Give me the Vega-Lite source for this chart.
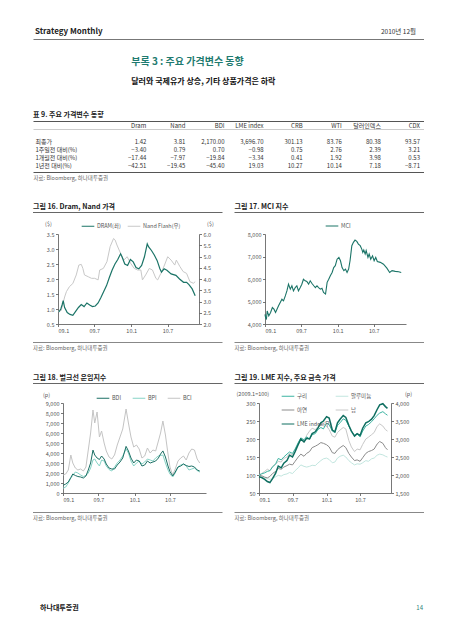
{
"$schema": "https://vega.github.io/schema/vega-lite/v6.json",
"padding": {"left": 30, "top": 25, "right": 0, "bottom": 0},
"background": "white",
"bounds": "flush",
"spacing": 0,
"resolve": {"scale": {"color": "independent"}, "legend": {"color": "independent"}},
"config": {
 "font": "Noto Sans CJK KR",
 "view": {"stroke": null},
 "axis": {"labelFont": "Noto Sans CJK KR", "titleFont": "Noto Sans CJK KR", "labelFontSize": 5.5, "labelColor": "#555555", "domainColor": "#555555", "domainWidth": 0.8, "tickColor": "#555555", "tickWidth": 0.8, "tickSize": 2.5, "labelPadding": 1.5, "grid": false, "titleFontSize": 5.5, "titleFontWeight": "normal", "titleColor": "#555555"},
 "legend": {"labelFont": "Noto Sans CJK KR", "labelFontSize": 5.5, "labelColor": "#555555", "symbolType": "stroke", "symbolStrokeWidth": 1.5, "symbolSize": 160, "padding": 0, "labelOffset": 2, "columnPadding": 4, "rowPadding": 3, "direction": "horizontal", "orient": "none", "title": null},
 "title": {"font": "Noto Sans CJK KR", "subtitleFont": "Noto Sans CJK KR"},
 "text": {"font": "Noto Sans CJK KR"},
 "line": {"strokeWidth": 1}
},
"datasets": {
 "tbl": [
  {"r": "최종가", "c": "Dram", "v": 1.42}, {"r": "최종가", "c": "Nand", "v": 3.81}, {"r": "최종가", "c": "BDI", "v": 2170.00}, {"r": "최종가", "c": "LME index", "v": 3696.70}, {"r": "최종가", "c": "CRB", "v": 301.13}, {"r": "최종가", "c": "WTI", "v": 83.76}, {"r": "최종가", "c": "달러인덱스", "v": 80.38}, {"r": "최종가", "c": "CDX", "v": 93.57},
  {"r": "1주일전 대비(%)", "c": "Dram", "v": -3.40}, {"r": "1주일전 대비(%)", "c": "Nand", "v": 0.79}, {"r": "1주일전 대비(%)", "c": "BDI", "v": 0.70}, {"r": "1주일전 대비(%)", "c": "LME index", "v": -0.98}, {"r": "1주일전 대비(%)", "c": "CRB", "v": 0.75}, {"r": "1주일전 대비(%)", "c": "WTI", "v": 2.76}, {"r": "1주일전 대비(%)", "c": "달러인덱스", "v": 2.39}, {"r": "1주일전 대비(%)", "c": "CDX", "v": 3.21},
  {"r": "1개월전 대비(%)", "c": "Dram", "v": -17.44}, {"r": "1개월전 대비(%)", "c": "Nand", "v": -7.97}, {"r": "1개월전 대비(%)", "c": "BDI", "v": -19.84}, {"r": "1개월전 대비(%)", "c": "LME index", "v": -3.34}, {"r": "1개월전 대비(%)", "c": "CRB", "v": 0.41}, {"r": "1개월전 대비(%)", "c": "WTI", "v": 1.92}, {"r": "1개월전 대비(%)", "c": "달러인덱스", "v": 3.98}, {"r": "1개월전 대비(%)", "c": "CDX", "v": 0.53},
  {"r": "1년전 대비(%)", "c": "Dram", "v": -42.51}, {"r": "1년전 대비(%)", "c": "Nand", "v": -19.45}, {"r": "1년전 대비(%)", "c": "BDI", "v": -45.40}, {"r": "1년전 대비(%)", "c": "LME index", "v": 19.03}, {"r": "1년전 대비(%)", "c": "CRB", "v": 10.27}, {"r": "1년전 대비(%)", "c": "WTI", "v": 10.14}, {"r": "1년전 대비(%)", "c": "달러인덱스", "v": 7.18}, {"r": "1년전 대비(%)", "c": "CDX", "v": -8.71}
 ],
 "dram": [
  {"d": "2009-01-05", "v": 0.90}, {"d": "2009-01-15", "v": 1.00}, {"d": "2009-01-22", "v": 1.15}, {"d": "2009-01-27", "v": 1.28}, {"d": "2009-02-03", "v": 1.05}, {"d": "2009-02-16", "v": 0.88}, {"d": "2009-03-02", "v": 0.82}, {"d": "2009-03-16", "v": 0.79}, {"d": "2009-03-30", "v": 0.92}, {"d": "2009-04-13", "v": 1.05}, {"d": "2009-04-27", "v": 1.15}, {"d": "2009-05-11", "v": 1.08}, {"d": "2009-05-25", "v": 1.20}, {"d": "2009-06-08", "v": 1.13}, {"d": "2009-06-22", "v": 1.08}, {"d": "2009-07-06", "v": 1.10}, {"d": "2009-07-20", "v": 1.20}, {"d": "2009-08-03", "v": 1.38}, {"d": "2009-08-17", "v": 1.58}, {"d": "2009-08-31", "v": 1.78}, {"d": "2009-09-14", "v": 2.05}, {"d": "2009-09-28", "v": 2.30}, {"d": "2009-10-12", "v": 2.50}, {"d": "2009-10-26", "v": 2.65}, {"d": "2009-11-09", "v": 2.84}, {"d": "2009-11-16", "v": 2.74}, {"d": "2009-11-30", "v": 2.50}, {"d": "2009-12-14", "v": 2.45}, {"d": "2009-12-28", "v": 2.65}, {"d": "2010-01-11", "v": 2.57}, {"d": "2010-01-25", "v": 2.38}, {"d": "2010-02-08", "v": 2.34}, {"d": "2010-02-22", "v": 2.45}, {"d": "2010-03-08", "v": 2.74}, {"d": "2010-03-22", "v": 3.17}, {"d": "2010-03-29", "v": 3.07}, {"d": "2010-04-12", "v": 2.95}, {"d": "2010-04-26", "v": 2.80}, {"d": "2010-05-10", "v": 2.62}, {"d": "2010-05-24", "v": 2.34}, {"d": "2010-06-01", "v": 2.23}, {"d": "2010-06-14", "v": 2.34}, {"d": "2010-06-28", "v": 2.29}, {"d": "2010-07-19", "v": 2.17}, {"d": "2010-08-12", "v": 2.12}, {"d": "2010-08-30", "v": 2.00}, {"d": "2010-09-19", "v": 1.89}, {"d": "2010-10-04", "v": 1.89}, {"d": "2010-10-16", "v": 1.81}, {"d": "2010-11-01", "v": 1.67}, {"d": "2010-11-16", "v": 1.44}
 ],
 "nand": [
  {"d": "2009-01-01", "v": 2.55}, {"d": "2009-01-17", "v": 2.60}, {"d": "2009-02-03", "v": 3.20}, {"d": "2009-02-12", "v": 3.44}, {"d": "2009-02-27", "v": 3.66}, {"d": "2009-03-16", "v": 3.80}, {"d": "2009-04-02", "v": 4.18}, {"d": "2009-04-15", "v": 4.62}, {"d": "2009-04-27", "v": 4.65}, {"d": "2009-05-05", "v": 4.47}, {"d": "2009-05-13", "v": 4.18}, {"d": "2009-06-01", "v": 4.10}, {"d": "2009-06-17", "v": 4.03}, {"d": "2009-07-03", "v": 4.03}, {"d": "2009-07-20", "v": 3.96}, {"d": "2009-07-28", "v": 4.40}, {"d": "2009-08-15", "v": 4.47}, {"d": "2009-09-02", "v": 4.77}, {"d": "2009-09-18", "v": 5.44}, {"d": "2009-10-05", "v": 5.80}, {"d": "2009-10-13", "v": 5.73}, {"d": "2009-10-22", "v": 5.51}, {"d": "2009-11-09", "v": 5.14}, {"d": "2009-11-25", "v": 4.84}, {"d": "2009-12-12", "v": 4.99}, {"d": "2009-12-29", "v": 4.70}, {"d": "2010-01-16", "v": 4.47}, {"d": "2010-02-02", "v": 4.40}, {"d": "2010-02-18", "v": 4.40}, {"d": "2010-02-26", "v": 3.96}, {"d": "2010-03-14", "v": 4.18}, {"d": "2010-04-01", "v": 4.47}, {"d": "2010-04-17", "v": 4.40}, {"d": "2010-05-04", "v": 4.03}, {"d": "2010-05-13", "v": 3.96}, {"d": "2010-05-29", "v": 4.25}, {"d": "2010-06-16", "v": 4.62}, {"d": "2010-07-02", "v": 4.99}, {"d": "2010-07-19", "v": 4.84}, {"d": "2010-08-06", "v": 4.62}, {"d": "2010-08-14", "v": 4.84}, {"d": "2010-09-01", "v": 4.55}, {"d": "2010-09-17", "v": 4.33}, {"d": "2010-10-04", "v": 4.25}, {"d": "2010-10-21", "v": 3.88}, {"d": "2010-11-07", "v": 3.81}, {"d": "2010-11-16", "v": 3.88}
 ],
 "mci": [
  {"d": "2009-01-01", "v": 4430}, {"d": "2009-01-04", "v": 4290}, {"d": "2009-01-08", "v": 4200}, {"d": "2009-01-12", "v": 4580}, {"d": "2009-01-20", "v": 4360}, {"d": "2009-01-29", "v": 4510}, {"d": "2009-02-07", "v": 4730}, {"d": "2009-02-15", "v": 4660}, {"d": "2009-02-23", "v": 4510}, {"d": "2009-03-10", "v": 4810}, {"d": "2009-03-23", "v": 5030}, {"d": "2009-03-27", "v": 5100}, {"d": "2009-04-04", "v": 5030}, {"d": "2009-04-13", "v": 5250}, {"d": "2009-04-21", "v": 5470}, {"d": "2009-04-29", "v": 5770}, {"d": "2009-05-08", "v": 5550}, {"d": "2009-05-16", "v": 5700}, {"d": "2009-05-24", "v": 5470}, {"d": "2009-06-02", "v": 5620}, {"d": "2009-06-10", "v": 5700}, {"d": "2009-06-18", "v": 5470}, {"d": "2009-06-27", "v": 5620}, {"d": "2009-07-05", "v": 5770}, {"d": "2009-07-13", "v": 5990}, {"d": "2009-07-22", "v": 5920}, {"d": "2009-07-30", "v": 5890}, {"d": "2009-08-08", "v": 5770}, {"d": "2009-08-16", "v": 5920}, {"d": "2009-08-25", "v": 5800}, {"d": "2009-09-03", "v": 5700}, {"d": "2009-09-11", "v": 5620}, {"d": "2009-09-19", "v": 5700}, {"d": "2009-09-27", "v": 5620}, {"d": "2009-10-06", "v": 5550}, {"d": "2009-10-14", "v": 5590}, {"d": "2009-10-22", "v": 5400}, {"d": "2009-11-01", "v": 5330}, {"d": "2009-11-09", "v": 5850}, {"d": "2009-11-17", "v": 5990}, {"d": "2009-11-25", "v": 6140}, {"d": "2009-12-04", "v": 6290}, {"d": "2009-12-12", "v": 6510}, {"d": "2009-12-20", "v": 6590}, {"d": "2009-12-29", "v": 6880}, {"d": "2010-01-07", "v": 6960}, {"d": "2010-01-15", "v": 6810}, {"d": "2010-01-23", "v": 6510}, {"d": "2010-02-01", "v": 6370}, {"d": "2010-02-09", "v": 6440}, {"d": "2010-02-17", "v": 6290}, {"d": "2010-02-25", "v": 6440}, {"d": "2010-03-04", "v": 6810}, {"d": "2010-03-13", "v": 7480}, {"d": "2010-03-21", "v": 7630}, {"d": "2010-03-29", "v": 7730}, {"d": "2010-04-07", "v": 7670}, {"d": "2010-04-15", "v": 7550}, {"d": "2010-04-24", "v": 7480}, {"d": "2010-05-02", "v": 7330}, {"d": "2010-05-07", "v": 7180}, {"d": "2010-05-12", "v": 7290}, {"d": "2010-05-19", "v": 7110}, {"d": "2010-05-24", "v": 7260}, {"d": "2010-06-02", "v": 6960}, {"d": "2010-06-08", "v": 7110}, {"d": "2010-06-16", "v": 6880}, {"d": "2010-06-25", "v": 7030}, {"d": "2010-07-03", "v": 6810}, {"d": "2010-07-11", "v": 6960}, {"d": "2010-07-19", "v": 6780}, {"d": "2010-08-03", "v": 6740}, {"d": "2010-08-19", "v": 6660}, {"d": "2010-09-05", "v": 6480}, {"d": "2010-09-19", "v": 6290}, {"d": "2010-10-01", "v": 6370}, {"d": "2010-10-17", "v": 6340}, {"d": "2010-11-03", "v": 6320}, {"d": "2010-11-16", "v": 6290}
 ],
 "bulk": [
  {"d": "2009-01-02", "BDI": 774, "BPI": 480, "BCI": 1800}, {"d": "2009-01-15", "BDI": 900, "BPI": 600, "BCI": 1900}, {"d": "2009-01-28", "BDI": 1100, "BPI": 1000, "BCI": 2300}, {"d": "2009-02-10", "BDI": 1550, "BPI": 1500, "BCI": 3800}, {"d": "2009-02-20", "BDI": 1900, "BPI": 1750, "BCI": 3000}, {"d": "2009-03-05", "BDI": 1750, "BPI": 2100, "BCI": 2500}, {"d": "2009-03-18", "BDI": 1650, "BPI": 2000, "BCI": 2300}, {"d": "2009-04-01", "BDI": 1600, "BPI": 1800, "BCI": 2400}, {"d": "2009-04-15", "BDI": 1500, "BPI": 1650, "BCI": 2200}, {"d": "2009-04-28", "BDI": 1700, "BPI": 1750, "BCI": 2600}, {"d": "2009-05-10", "BDI": 2300, "BPI": 2000, "BCI": 4300}, {"d": "2009-05-22", "BDI": 3000, "BPI": 2500, "BCI": 6000}, {"d": "2009-06-03", "BDI": 4291, "BPI": 3300, "BCI": 8300}, {"d": "2009-06-12", "BDI": 3800, "BPI": 3400, "BCI": 7000}, {"d": "2009-06-24", "BDI": 3500, "BPI": 3000, "BCI": 8100}, {"d": "2009-07-06", "BDI": 3350, "BPI": 2700, "BCI": 5600}, {"d": "2009-07-17", "BDI": 3700, "BPI": 3300, "BCI": 6200}, {"d": "2009-07-30", "BDI": 3400, "BPI": 3200, "BCI": 5000}, {"d": "2009-08-10", "BDI": 2900, "BPI": 2700, "BCI": 4200}, {"d": "2009-08-24", "BDI": 2500, "BPI": 2350, "BCI": 3600}, {"d": "2009-09-07", "BDI": 2400, "BPI": 2200, "BCI": 3400}, {"d": "2009-09-21", "BDI": 2400, "BPI": 2600, "BCI": 3800}, {"d": "2009-10-05", "BDI": 2800, "BPI": 3000, "BCI": 4800}, {"d": "2009-10-19", "BDI": 3100, "BPI": 3300, "BCI": 5600}, {"d": "2009-11-02", "BDI": 3500, "BPI": 3700, "BCI": 6400}, {"d": "2009-11-19", "BDI": 4661, "BPI": 4400, "BCI": 8400}, {"d": "2009-12-01", "BDI": 4200, "BPI": 4000, "BCI": 7000}, {"d": "2009-12-14", "BDI": 3500, "BPI": 3200, "BCI": 5600}, {"d": "2009-12-28", "BDI": 3000, "BPI": 2700, "BCI": 4600}, {"d": "2010-01-11", "BDI": 3300, "BPI": 3000, "BCI": 4800}, {"d": "2010-01-25", "BDI": 3200, "BPI": 3200, "BCI": 4400}, {"d": "2010-02-08", "BDI": 2700, "BPI": 2900, "BCI": 3500}, {"d": "2010-02-22", "BDI": 2800, "BPI": 3100, "BCI": 3700}, {"d": "2010-03-08", "BDI": 3200, "BPI": 3400, "BCI": 4500}, {"d": "2010-03-22", "BDI": 3000, "BPI": 3300, "BCI": 4000}, {"d": "2010-04-05", "BDI": 3100, "BPI": 3200, "BCI": 4300}, {"d": "2010-04-19", "BDI": 3200, "BPI": 3500, "BCI": 4200}, {"d": "2010-05-03", "BDI": 3500, "BPI": 3700, "BCI": 5200}, {"d": "2010-05-14", "BDI": 3900, "BPI": 3750, "BCI": 6000}, {"d": "2010-05-26", "BDI": 4209, "BPI": 3800, "BCI": 7200}, {"d": "2010-06-08", "BDI": 3600, "BPI": 3000, "BCI": 5800}, {"d": "2010-06-21", "BDI": 2700, "BPI": 2300, "BCI": 3900}, {"d": "2010-07-01", "BDI": 2150, "BPI": 1900, "BCI": 2600}, {"d": "2010-07-15", "BDI": 1700, "BPI": 1600, "BCI": 1800}, {"d": "2010-07-28", "BDI": 2100, "BPI": 2000, "BCI": 2400}, {"d": "2010-08-11", "BDI": 2600, "BPI": 2600, "BCI": 3200}, {"d": "2010-08-25", "BDI": 2700, "BPI": 2800, "BCI": 3500}, {"d": "2010-09-08", "BDI": 2900, "BPI": 2900, "BCI": 3700}, {"d": "2010-09-22", "BDI": 2750, "BPI": 2700, "BCI": 3300}, {"d": "2010-10-06", "BDI": 2650, "BPI": 2300, "BCI": 4000}, {"d": "2010-10-20", "BDI": 2700, "BPI": 2400, "BCI": 4400}, {"d": "2010-11-03", "BDI": 2600, "BPI": 2500, "BCI": 4300}, {"d": "2010-11-17", "BDI": 2300, "BPI": 2250, "BCI": 3400}, {"d": "2010-11-30", "BDI": 2200, "BPI": 2100, "BCI": 3000}
 ],
 "lme": [
  {"d": "2009-01-01", "구리": 100, "알루미늄": 100, "아연": 100, "납": 100, "LME": 1950},
  {"d": "2009-01-15", "구리": 103, "알루미늄": 96, "아연": 98, "납": 104, "LME": 1930},
  {"d": "2009-02-01", "구리": 106, "알루미늄": 92, "아연": 94, "납": 110, "LME": 1880},
  {"d": "2009-02-15", "구리": 110, "알루미늄": 90, "아연": 92, "납": 116, "LME": 1820},
  {"d": "2009-03-01", "구리": 112, "알루미늄": 88, "아연": 96, "납": 112, "LME": 1790},
  {"d": "2009-03-15", "구리": 122, "알루미늄": 90, "아연": 104, "납": 124, "LME": 1900},
  {"d": "2009-04-01", "구리": 131, "알루미늄": 95, "아연": 110, "납": 130, "LME": 2050},
  {"d": "2009-04-15", "구리": 146, "알루미늄": 99, "아연": 118, "납": 138, "LME": 2250},
  {"d": "2009-05-01", "구리": 142, "알루미늄": 97, "아연": 116, "납": 136, "LME": 2200},
  {"d": "2009-05-15", "구리": 150, "알루미늄": 101, "아연": 122, "납": 146, "LME": 2330},
  {"d": "2009-06-01", "구리": 158, "알루미늄": 103, "아연": 126, "납": 150, "LME": 2400},
  {"d": "2009-06-15", "구리": 164, "알루미늄": 107, "아연": 130, "납": 160, "LME": 2550},
  {"d": "2009-07-01", "구리": 160, "알루미늄": 104, "아연": 128, "납": 156, "LME": 2500},
  {"d": "2009-07-15", "구리": 172, "알루미늄": 112, "아연": 138, "납": 172, "LME": 2650},
  {"d": "2009-08-01", "구리": 190, "알루미늄": 120, "아연": 150, "납": 185, "LME": 2850},
  {"d": "2009-08-15", "구리": 203, "알루미늄": 128, "아연": 158, "납": 200, "LME": 3000},
  {"d": "2009-09-01", "구리": 198, "알루미늄": 124, "아연": 152, "납": 190, "LME": 2920},
  {"d": "2009-09-15", "구리": 206, "알루미늄": 122, "아연": 160, "납": 210, "LME": 3020},
  {"d": "2009-10-01", "구리": 200, "알루미늄": 124, "아연": 165, "납": 222, "LME": 3000},
  {"d": "2009-10-15", "구리": 212, "알루미늄": 127, "아연": 176, "납": 230, "LME": 3150},
  {"d": "2009-11-01", "구리": 215, "알루미늄": 126, "아연": 180, "납": 226, "LME": 3200},
  {"d": "2009-11-15", "구리": 226, "알루미늄": 133, "아연": 184, "납": 234, "LME": 3300},
  {"d": "2009-12-01", "구리": 232, "알루미늄": 140, "아연": 190, "납": 238, "LME": 3450},
  {"d": "2009-12-15", "구리": 228, "알루미늄": 145, "아연": 188, "납": 242, "LME": 3500},
  {"d": "2010-01-01", "구리": 244, "알루미늄": 147, "아연": 184, "납": 236, "LME": 3620},
  {"d": "2010-01-15", "구리": 240, "알루미늄": 143, "아연": 178, "납": 226, "LME": 3580},
  {"d": "2010-02-01", "구리": 222, "알루미늄": 134, "아연": 162, "납": 208, "LME": 3250},
  {"d": "2010-02-15", "구리": 218, "알루미늄": 136, "아연": 160, "납": 205, "LME": 3200},
  {"d": "2010-03-01", "구리": 238, "알루미늄": 147, "아연": 170, "납": 218, "LME": 3450},
  {"d": "2010-03-15", "구리": 245, "알루미늄": 152, "아연": 176, "납": 225, "LME": 3550},
  {"d": "2010-04-01", "구리": 256, "알루미늄": 155, "아연": 182, "납": 232, "LME": 3650},
  {"d": "2010-04-15", "구리": 252, "알루미늄": 150, "아연": 176, "납": 228, "LME": 3600},
  {"d": "2010-05-01", "구리": 236, "알루미늄": 140, "아연": 160, "납": 196, "LME": 3380},
  {"d": "2010-05-15", "구리": 222, "알루미늄": 134, "아연": 150, "납": 178, "LME": 3220},
  {"d": "2010-06-01", "구리": 210, "알루미늄": 128, "아연": 140, "납": 165, "LME": 3080},
  {"d": "2010-06-15", "구리": 214, "알루미늄": 131, "아연": 142, "납": 172, "LME": 3150},
  {"d": "2010-07-01", "구리": 206, "알루미늄": 130, "아연": 138, "납": 170, "LME": 3100},
  {"d": "2010-07-15", "구리": 222, "알루미늄": 134, "아연": 148, "납": 185, "LME": 3300},
  {"d": "2010-08-01", "구리": 236, "알루미늄": 140, "아연": 160, "납": 200, "LME": 3450},
  {"d": "2010-08-15", "구리": 240, "알루미늄": 138, "아연": 165, "납": 205, "LME": 3480},
  {"d": "2010-09-01", "구리": 248, "알루미늄": 145, "아연": 168, "납": 212, "LME": 3550},
  {"d": "2010-09-15", "구리": 256, "알루미늄": 147, "아연": 172, "납": 218, "LME": 3650},
  {"d": "2010-10-01", "구리": 266, "알루미늄": 155, "아연": 186, "납": 235, "LME": 3820},
  {"d": "2010-10-15", "구리": 272, "알루미늄": 158, "아연": 193, "납": 242, "LME": 3950},
  {"d": "2010-11-01", "구리": 276, "알루미늄": 156, "아연": 188, "납": 236, "LME": 3980},
  {"d": "2010-11-15", "구리": 270, "알루미늄": 152, "아연": 176, "납": 226, "LME": 3900},
  {"d": "2010-11-26", "구리": 266, "알루미늄": 150, "아연": 170, "납": 222, "LME": 3850}
 ]
},
"vconcat": [
 {
  "width": 391, "height": 14,
  "data": {"values": [{"p": "L", "row": "a", "t": "Strategy Monthly"}, {"p": "R", "row": "a", "t": "2010년 12월"}]},
  "encoding": {
   "x": {"field": "p", "type": "nominal", "scale": {"type": "point", "domain": ["L", "R"], "padding": 0}, "axis": {"orient": "bottom", "labels": false, "ticks": false, "title": null, "domainColor": "#777777", "domainWidth": 1}},
   "y": {"field": "row", "type": "nominal", "scale": {"type": "band", "domain": ["a"], "paddingInner": 0, "paddingOuter": 0}, "axis": null},
   "text": {"field": "t"}
  },
  "layer": [
   {"transform": [{"filter": "datum.p == 'L'"}], "mark": {"type": "text", "align": "left", "baseline": "middle", "dx": 2, "fontSize": 8, "fontWeight": "bold", "color": "#222222"}},
   {"transform": [{"filter": "datum.p == 'R'"}], "mark": {"type": "text", "align": "right", "baseline": "middle", "dx": -8, "fontSize": 6.5, "color": "#333333"}}
  ]
 },
 {"width": 391, "height": 52, "data": {"values": [{}]}, "mark": {"type": "point", "opacity": 0}, "encoding": {"x": {"value": 0}, "y": {"value": 0}}},
 {
  "width": 391, "height": 30,
  "title": {"text": "부록 3 : 주요 가격변수 동향", "subtitle": "달러와 국제유가 상승, 기타 상품가격은 하락", "anchor": "start", "dx": 101, "offset": 2, "fontSize": 10, "fontWeight": "bold", "color": "#1f7b70", "subtitleFontSize": 8, "subtitleFontWeight": "bold", "subtitleColor": "#111111", "subtitlePadding": 11},
  "data": {"values": [{}]}, "mark": {"type": "point", "opacity": 0}, "encoding": {"x": {"value": 0}, "y": {"value": 0}}
 },
 {
  "width": 391, "height": 51,
  "title": {"text": "표 9. 주요 가격변수 동향", "anchor": "start", "fontSize": 7, "fontWeight": "bold", "color": "#222222", "offset": 3},
  "layer": [
   {"data": {"values": [{"r": "h", "c": "Dram"}, {"r": "h", "c": "Nand"}, {"r": "h", "c": "BDI"}, {"r": "h", "c": "LME index"}, {"r": "h", "c": "CRB"}, {"r": "h", "c": "WTI"}, {"r": "h", "c": "달러인덱스"}, {"r": "h", "c": "CDX"}]},
    "mark": {"type": "text", "align": "right", "baseline": "middle", "fontSize": 6, "color": "#333333"},
    "encoding": {"x": {"field": "c", "type": "nominal", "bandPosition": 1}, "y": {"field": "r", "type": "nominal"}, "text": {"field": "c"}}},
   {"data": {"name": "tbl"},
    "mark": {"type": "text", "align": "right", "baseline": "middle", "fontSize": 6, "color": "#333333"},
    "encoding": {
     "x": {"field": "c", "type": "nominal", "bandPosition": 1, "scale": {"type": "band", "domain": ["Dram", "Nand", "BDI", "LME index", "CRB", "WTI", "달러인덱스", "CDX"], "paddingInner": 0, "paddingOuter": 1.0128, "align": 0.949},
      "axis": {"orient": "bottom", "labels": false, "ticks": false, "tickSize": 0, "domainColor": "#555555", "domainWidth": 1, "title": "자료: Bloomberg, 하나대투증권", "titleAnchor": "start", "titleAlign": "left", "titleFontSize": 5.5, "titleColor": "#666666", "titlePadding": 3, "titleFontWeight": "normal"}},
     "y": {"field": "r", "type": "nominal", "scale": {"type": "band", "domain": ["h", "_gap", "최종가", "1주일전 대비(%)", "1개월전 대비(%)", "1년전 대비(%)"], "paddingInner": 0, "paddingOuter": 0.1875, "align": 0.333},
      "axis": {"orient": "left", "domain": false, "ticks": false, "tickSize": 0, "bandPosition": 0, "labelAlign": "left", "labelBaseline": "middle", "labelOffset": 0, "labelPadding": -2, "labelFontSize": 6, "labelColor": "#333333", "title": null, "labelExpr": "(datum.value == 'h' || datum.value == '_gap') ? '' : datum.value",
       "grid": true,
       "gridColor": {"condition": {"test": "datum.value == 'h'", "value": "#555555"}, "value": "#aaaaaa"},
       "gridWidth": {"condition": {"test": "datum.value == 'h'", "value": 1}, "value": 0.6},
       "gridOpacity": {"condition": {"test": "datum.value == 'h' || datum.value == '_gap'", "value": 1}, "value": 0}}},
     "text": {"field": "v", "type": "quantitative", "format": ",.2f"}
    }}
  ]
 },
 {"width": 391, "height": 40, "data": {"values": [{}]}, "mark": {"type": "point", "opacity": 0}, "encoding": {"x": {"value": 0}, "y": {"value": 0}}},
 {
  "width": 391, "height": 1,
  "data": {"values": [{"p": "L", "t": "그림 16. Dram, Nand 가격"}, {"p": "R", "t": "그림 17. MCI 지수"}]},
  "layer": [
   {"mark": {"type": "rect", "color": "#666666"}, "encoding": {"x": {"field": "p", "type": "nominal", "scale": {"type": "band", "domain": ["L", "R"], "paddingInner": 0.0596, "paddingOuter": 0}, "axis": null}}},
   {"mark": {"type": "text", "align": "left", "baseline": "bottom", "dy": -2.5, "fontSize": 7, "fontWeight": "bold", "color": "#222222"}, "encoding": {"x": {"field": "p", "type": "nominal", "bandPosition": 0, "scale": {"type": "band", "domain": ["L", "R"], "paddingInner": 0.0596, "paddingOuter": 0}, "axis": null}, "text": {"field": "t"}}}
  ]
 },
 {"width": 391, "height": 21, "data": {"values": [{}]}, "mark": {"type": "point", "opacity": 0}, "encoding": {"x": {"value": 0}, "y": {"value": 0}}},
 {
  "resolve": {"scale": {"color": "independent"}, "legend": {"color": "independent"}},
  "hconcat": [
   {"width": 25, "height": 90, "data": {"values": [{}]}, "mark": {"type": "point", "opacity": 0}, "encoding": {"x": {"value": 0}, "y": {"value": 0}}},
   {
    "width": 141, "height": 90,
    "encoding": {"x": {"field": "d", "type": "temporal", "scale": {"domain": [{"year": 2009, "month": 1, "date": 1}, {"year": 2010, "month": 12, "date": 5}], "nice": false}, "axis": {"orient": "bottom", "values": [{"year": 2009, "month": 1, "date": 1}, {"year": 2009, "month": 7, "date": 1}, {"year": 2010, "month": 1, "date": 1}, {"year": 2010, "month": 7, "date": 1}], "format": "%y.%-m", "title": null, "labelPadding": 2}}},
    "layer": [
     {"data": {"name": "nand"}, "mark": {"type": "line", "strokeWidth": 1},
      "encoding": {
       "y": {"field": "v", "type": "quantitative", "scale": {"domain": [2, 6], "nice": false, "zero": false}, "axis": {"orient": "right", "values": [2, 2.5, 3, 3.5, 4, 4.5, 5, 5.5, 6], "format": ".1f", "title": "($)", "titleAngle": 0, "titleX": 11, "titleY": -11, "titleAlign": "center", "titleBaseline": "middle"}},
       "color": {"datum": "Nand Flash(우)", "scale": {"domain": ["DRAM(좌)", "Nand Flash(우)"], "range": ["#1b7467", "#c8c8c8"]}, "legend": {"legendX": 23, "legendY": -15, "title": null, "columnPadding": 4}}
      }},
     {"data": {"name": "dram"}, "mark": {"type": "line", "strokeWidth": 1.2},
      "encoding": {
       "y": {"field": "v", "type": "quantitative", "scale": {"domain": [0.5, 3.5], "nice": false, "zero": false}, "axis": {"orient": "left", "values": [0.5, 1, 1.5, 2, 2.5, 3, 3.5], "format": ".1f", "title": "($)", "titleAngle": 0, "titleX": -10, "titleY": -11, "titleAlign": "center", "titleBaseline": "middle"}},
       "color": {"datum": "DRAM(좌)", "scale": {"domain": ["DRAM(좌)", "Nand Flash(우)"], "range": ["#1b7467", "#c8c8c8"]}, "legend": {"legendX": 23, "legendY": -15, "title": null, "columnPadding": 4}}
      }}
    ],
    "resolve": {"scale": {"y": "independent"}}
   },
   {"width": 66, "height": 90, "data": {"values": [{}]}, "mark": {"type": "point", "opacity": 0}, "encoding": {"x": {"value": 0}, "y": {"value": 0}}},
   {
    "width": 141, "height": 90,
    "data": {"name": "mci"},
    "mark": {"type": "line", "strokeWidth": 1.1},
    "encoding": {
     "x": {"field": "d", "type": "temporal", "scale": {"domain": [{"year": 2009, "month": 1, "date": 1}, {"year": 2010, "month": 12, "date": 10}], "nice": false}, "axis": {"orient": "bottom", "values": [{"year": 2009, "month": 1, "date": 1}, {"year": 2009, "month": 7, "date": 1}, {"year": 2010, "month": 1, "date": 1}, {"year": 2010, "month": 7, "date": 1}], "format": "%y.%-m", "title": null, "labelPadding": 2}},
     "y": {"field": "v", "type": "quantitative", "scale": {"domain": [4000, 8000], "nice": false, "zero": false}, "axis": {"orient": "left", "values": [4000, 5000, 6000, 7000, 8000], "format": ",.0f", "title": null}},
     "color": {"datum": "MCI", "scale": {"domain": ["MCI"], "range": ["#1b7467"]}, "legend": {"legendX": 60, "legendY": -15, "title": null}}
    }
   }
  ],
  "spacing": 0,
  "bounds": "flush"
 },
 {"width": 391, "height": 108, "data": {"values": [{}]}, "mark": {"type": "point", "opacity": 0}, "encoding": {"x": {"value": 0}, "y": {"value": 0}}},
 {
  "width": 391, "height": 1,
  "data": {"values": [{"p": "L", "t": "자료: Bloomberg, 하나대투증권"}, {"p": "R", "t": "자료: Bloomberg, 하나대투증권"}]},
  "layer": [
   {"mark": {"type": "rect", "color": "#888888"}, "encoding": {"x": {"field": "p", "type": "nominal", "scale": {"type": "band", "domain": ["L", "R"], "paddingInner": 0.0596, "paddingOuter": 0}, "axis": null}}},
   {"mark": {"type": "text", "align": "left", "baseline": "top", "dy": 3, "fontSize": 5.5, "color": "#666666"}, "encoding": {"x": {"field": "p", "type": "nominal", "bandPosition": 0, "scale": {"type": "band", "domain": ["L", "R"], "paddingInner": 0.0596, "paddingOuter": 0}, "axis": null}, "text": {"field": "t"}}}
  ]
 },
 {"width": 391, "height": 40, "data": {"values": [{}]}, "mark": {"type": "point", "opacity": 0}, "encoding": {"x": {"value": 0}, "y": {"value": 0}}},
 {
  "width": 391, "height": 1,
  "data": {"values": [{"p": "L", "t": "그림 18. 벌크선 운임지수"}, {"p": "R", "t": "그림 19. LME 지수, 주요 금속 가격"}]},
  "layer": [
   {"mark": {"type": "rect", "color": "#666666"}, "encoding": {"x": {"field": "p", "type": "nominal", "scale": {"type": "band", "domain": ["L", "R"], "paddingInner": 0.0596, "paddingOuter": 0}, "axis": null}}},
   {"mark": {"type": "text", "align": "left", "baseline": "bottom", "dy": -2.5, "fontSize": 7, "fontWeight": "bold", "color": "#222222"}, "encoding": {"x": {"field": "p", "type": "nominal", "bandPosition": 0, "scale": {"type": "band", "domain": ["L", "R"], "paddingInner": 0.0596, "paddingOuter": 0}, "axis": null}, "text": {"field": "t"}}}
  ]
 },
 {"width": 391, "height": 19, "data": {"values": [{}]}, "mark": {"type": "point", "opacity": 0}, "encoding": {"x": {"value": 0}, "y": {"value": 0}}},
 {
  "resolve": {"scale": {"color": "independent"}, "legend": {"color": "independent"}},
  "hconcat": [
   {"width": 30, "height": 90, "data": {"values": [{}]}, "mark": {"type": "point", "opacity": 0}, "encoding": {"x": {"value": 0}, "y": {"value": 0}}},
   {
    "width": 143, "height": 90,
    "data": {"name": "bulk"},
    "transform": [{"fold": ["BCI", "BPI", "BDI"], "as": ["s", "v"]}],
    "mark": {"type": "line", "strokeWidth": 1},
    "encoding": {
     "x": {"field": "d", "type": "temporal", "scale": {"domain": [{"year": 2009, "month": 1, "date": 1}, {"year": 2011, "month": 1, "date": 1}], "nice": false}, "axis": {"orient": "bottom", "values": [{"year": 2009, "month": 1, "date": 1}, {"year": 2009, "month": 7, "date": 1}, {"year": 2010, "month": 1, "date": 1}, {"year": 2010, "month": 7, "date": 1}], "format": "%y.%-m", "title": null, "labelPadding": 2}},
     "y": {"field": "v", "type": "quantitative", "scale": {"domain": [0, 9000], "nice": false}, "axis": {"orient": "left", "values": [0, 1000, 2000, 3000, 4000, 5000, 6000, 7000, 8000, 9000], "format": ",.0f", "title": "(p)", "titleAngle": 0, "titleX": -17, "titleY": -9, "titleAlign": "center", "titleBaseline": "middle"}},
     "color": {"field": "s", "type": "nominal", "scale": {"domain": ["BDI", "BPI", "BCI"], "range": ["#1b6f64", "#86d3c6", "#c4c4c4"]}, "legend": {"legendX": 33, "legendY": -12, "columnPadding": 8, "title": null}}
    }
   },
   {"width": 53, "height": 90, "data": {"values": [{}]}, "mark": {"type": "point", "opacity": 0}, "encoding": {"x": {"value": 0}, "y": {"value": 0}}},
   {
    "width": 132, "height": 90,
    "data": {"name": "lme"},
    "encoding": {"x": {"field": "d", "type": "temporal", "scale": {"domain": [{"year": 2009, "month": 1, "date": 1}, {"year": 2010, "month": 12, "date": 15}], "nice": false}, "axis": {"orient": "bottom", "values": [{"year": 2009, "month": 1, "date": 1}, {"year": 2009, "month": 7, "date": 1}, {"year": 2010, "month": 1, "date": 1}, {"year": 2010, "month": 7, "date": 1}], "format": "%y.%-m", "title": null, "labelPadding": 2}}},
    "layer": [
     {"transform": [{"fold": ["알루미늄", "납", "아연", "구리"], "as": ["s", "v"]}], "mark": {"type": "line", "strokeWidth": 1},
      "encoding": {
       "y": {"field": "v", "type": "quantitative", "scale": {"domain": [50, 300], "nice": false, "zero": false}, "axis": {"orient": "left", "values": [50, 100, 150, 200, 250, 300], "format": "d", "title": "(2009.1=100)", "titleAngle": 0, "titleX": -23, "titleY": -10, "titleAlign": "left", "titleBaseline": "middle"}},
       "color": {"field": "s", "type": "nominal", "scale": {"domain": ["구리", "알루미늄", "아연", "납", "LME index(우)"], "range": ["#3cb4a2", "#c2e6df", "#8c8c8c", "#c8c8c8", "#0e6e60"]}, "legend": {"columns": 2, "legendX": 22, "legendY": -14, "columnPadding": 1, "rowPadding": 3, "title": null}}
      }},
     {"mark": {"type": "line", "strokeWidth": 1.5},
      "encoding": {
       "y": {"field": "LME", "type": "quantitative", "scale": {"domain": [1500, 4000], "nice": false, "zero": false}, "axis": {"orient": "right", "values": [1500, 2000, 2500, 3000, 3500, 4000], "format": ",.0f", "title": "(p)", "titleAngle": 0, "titleX": 17, "titleY": -10, "titleAlign": "center", "titleBaseline": "middle"}},
       "color": {"datum": "LME index(우)", "scale": {"domain": ["구리", "알루미늄", "아연", "납", "LME index(우)"], "range": ["#3cb4a2", "#c2e6df", "#8c8c8c", "#c8c8c8", "#0e6e60"]}, "legend": {"columns": 2, "legendX": 22, "legendY": -14, "columnPadding": 1, "rowPadding": 3, "title": null}}
      }}
    ],
    "resolve": {"scale": {"y": "independent"}}
   }
  ],
  "spacing": 0,
  "bounds": "flush"
 },
 {"width": 391, "height": 109, "data": {"values": [{}]}, "mark": {"type": "point", "opacity": 0}, "encoding": {"x": {"value": 0}, "y": {"value": 0}}},
 {
  "width": 391, "height": 1,
  "data": {"values": [{"p": "L", "t": "자료: Bloomberg, 하나대투증권"}, {"p": "R", "t": "자료: Bloomberg, 하나대투증권"}]},
  "layer": [
   {"mark": {"type": "rect", "color": "#888888"}, "encoding": {"x": {"field": "p", "type": "nominal", "scale": {"type": "band", "domain": ["L", "R"], "paddingInner": 0.0596, "paddingOuter": 0}, "axis": null}}},
   {"mark": {"type": "text", "align": "left", "baseline": "top", "dy": 3, "fontSize": 5.5, "color": "#666666"}, "encoding": {"x": {"field": "p", "type": "nominal", "bandPosition": 0, "scale": {"type": "band", "domain": ["L", "R"], "paddingInner": 0.0596, "paddingOuter": 0}, "axis": null}, "text": {"field": "t"}}}
  ]
 },
 {"width": 391, "height": 87, "data": {"values": [{}]}, "mark": {"type": "point", "opacity": 0}, "encoding": {"x": {"value": 0}, "y": {"value": 0}}},
 {
  "width": 391, "height": 16,
  "data": {"values": [{"p": "L", "row": "a", "t": "하나대투증권"}, {"p": "R", "row": "a", "t": "14"}]},
  "encoding": {
   "x": {"field": "p", "type": "nominal", "scale": {"type": "point", "domain": ["L", "R"], "padding": 0}, "axis": null},
   "y": {"field": "row", "type": "nominal", "scale": {"type": "band", "domain": ["a"], "paddingInner": 0, "paddingOuter": 0}, "axis": null},
   "text": {"field": "t"}
  },
  "layer": [
   {"transform": [{"filter": "datum.p == 'L'"}], "mark": {"type": "text", "align": "left", "baseline": "middle", "dx": 7, "fontSize": 7, "fontWeight": "bold", "color": "#111111"}},
   {"transform": [{"filter": "datum.p == 'R'"}], "mark": {"type": "text", "align": "right", "baseline": "middle", "dx": -1, "fontSize": 6, "color": "#2a7f75"}}
  ]
 }
]
}
